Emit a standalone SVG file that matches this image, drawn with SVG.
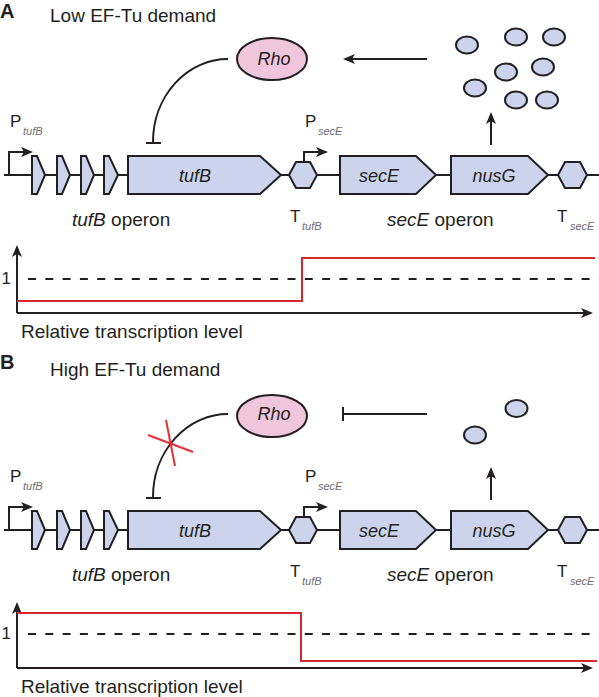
<svg xmlns="http://www.w3.org/2000/svg" width="599" height="697" viewBox="0 0 599 697">
<defs>
<style>
.t{font-family:"Liberation Sans",Arial,sans-serif;fill:#231f20}
.lbl{font-size:19px}
.gl{font-size:18px;font-style:italic;text-anchor:middle}
.it{font-style:italic}
.big{font-size:17px}
.sub{font-size:11px;font-style:italic;fill:#6d6e71}
.hd{font-size:20px;font-weight:bold}
.gene{fill:#cbd4ec;stroke:#231f20;stroke-width:2}
.ln{fill:none;stroke:#231f20;stroke-width:2}
.red{fill:none;stroke:#d9262e;stroke-width:2}
.x{fill:none;stroke:#e5323a;stroke-width:2}
.dash{fill:none;stroke:#231f20;stroke-width:2;stroke-dasharray:8 9.3}
.rho{fill:#f0c6dc;stroke:#231f20;stroke-width:2}
</style>
<marker id="ah" markerUnits="userSpaceOnUse" viewBox="0 0 12 10" refX="10" refY="5" markerWidth="12" markerHeight="10" orient="auto">
<path d="M0,0 L12,5 L0,10 L3,5 Z" fill="#231f20"/>
</marker>
</defs>

<!-- Panel A -->
<g id="panelA">
  <g id="A-title">
    <text class="t hd" x="0" y="18">A</text>
    <text class="t lbl" x="50" y="22">Low EF-Tu demand</text>
  </g>
  <g id="A-rho">
    <ellipse class="rho" cx="272" cy="59" rx="35" ry="21"/>
    <text class="t gl" x="274" y="65">Rho</text>
  </g>
  <g id="A-nusg-proteins">
    <ellipse class="gene" cx="467" cy="45" rx="11" ry="8.5"/>
    <ellipse class="gene" cx="516" cy="37" rx="11" ry="8.5"/>
    <ellipse class="gene" cx="554" cy="37" rx="11" ry="8.5"/>
    <ellipse class="gene" cx="506" cy="72" rx="11" ry="8.5"/>
    <ellipse class="gene" cx="543" cy="67" rx="11" ry="8.5"/>
    <ellipse class="gene" cx="475" cy="88" rx="11" ry="8.5"/>
    <ellipse class="gene" cx="516" cy="100" rx="11" ry="8.5"/>
    <ellipse class="gene" cx="547" cy="100" rx="11" ry="8.5"/>
  </g>
  <g id="A-genes">
    <path class="ln" d="M4,175 H599"/>
    <path class="ln" d="M9,175 V152 H31" marker-end="url(#ah)"/>
    <path class="gene" d="M32,156 H37 L45,175 L37,194 H32 Z"/>
    <path class="gene" d="M57,156 H62 L70,175 L62,194 H57 Z"/>
    <path class="gene" d="M81,156 H86 L94,175 L86,194 H81 Z"/>
    <path class="gene" d="M104,156 H109 L118,175 L109,194 H104 Z"/>
    <path class="gene" d="M128,156 H260 L281,175 L260,194 H128 Z"/>
    <text class="t gl" x="195" y="182">tufB</text>
    <path class="gene" d="M289,175 L296,162 H310 L317,175 L310,188 H296 Z"/>
    <path class="ln" d="M304,162 V152 H326" marker-end="url(#ah)"/>
    <path class="gene" d="M340,156 H416 L436,175 L416,194 H340 Z"/>
    <text class="t gl" x="379" y="182">secE</text>
    <path class="gene" d="M451,156 H528 L548,175 L528,194 H451 Z"/>
    <text class="t gl" x="494" y="182">nusG</text>
    <path class="gene" d="M558,175 L565,162 H580 L587,175 L580,188 H565 Z"/>
  </g>
  <g id="A-labels">
    <text class="t big" x="10" y="127">P</text><text class="t sub" x="23" y="135">tufB</text>
    <text class="t big" x="305" y="127">P</text><text class="t sub" x="318" y="135">secE</text>
    <text class="t lbl" x="72" y="226"><tspan class="it">tufB</tspan> operon</text>
    <text class="t big" x="290" y="222">T</text><text class="t sub" x="302" y="230">tufB</text>
    <text class="t lbl" x="387" y="226"><tspan class="it">secE</tspan> operon</text>
    <text class="t big" x="557" y="222">T</text><text class="t sub" x="570" y="230">secE</text>
  </g>
  <g id="A-chart">
    <path class="ln" d="M17,313 V247" marker-end="url(#ah)"/>
    <path class="ln" d="M17,313 H591" marker-end="url(#ah)"/>
    <path class="dash" d="M28,279 H599"/>
    <path class="red" d="M17,301 H302 V258 H595"/>
    <text class="t big" x="11" y="284" text-anchor="end">1</text>
    <text class="t lbl" x="21" y="338">Relative transcription level</text>
  </g>
</g>

<!-- Panel B -->
<g id="panelB" transform="translate(0,355)">
  <g id="B-title">
    <text class="t hd" x="0" y="14">B</text>
    <text class="t lbl" x="50" y="21">High EF-Tu demand</text>
  </g>
  <g id="B-rho">
    <ellipse class="rho" cx="272" cy="61" rx="35" ry="21"/>
    <text class="t gl" x="274" y="65">Rho</text>
  </g>
  <g id="B-nusg-proteins">
    <ellipse class="gene" cx="475" cy="80" rx="11" ry="8.5"/>
    <ellipse class="gene" cx="516.5" cy="53.5" rx="11" ry="8.5"/>
  </g>
  <g id="B-genes">
    <path class="ln" d="M4,175 H599"/>
    <path class="ln" d="M9,175 V152 H31" marker-end="url(#ah)"/>
    <path class="gene" d="M32,156 H37 L45,175 L37,194 H32 Z"/>
    <path class="gene" d="M57,156 H62 L70,175 L62,194 H57 Z"/>
    <path class="gene" d="M81,156 H86 L94,175 L86,194 H81 Z"/>
    <path class="gene" d="M104,156 H109 L118,175 L109,194 H104 Z"/>
    <path class="gene" d="M128,156 H260 L281,175 L260,194 H128 Z"/>
    <text class="t gl" x="195" y="182">tufB</text>
    <path class="gene" d="M289,175 L296,162 H310 L317,175 L310,188 H296 Z"/>
    <path class="ln" d="M304,162 V152 H326" marker-end="url(#ah)"/>
    <path class="gene" d="M340,156 H416 L436,175 L416,194 H340 Z"/>
    <text class="t gl" x="379" y="182">secE</text>
    <path class="gene" d="M451,156 H528 L548,175 L528,194 H451 Z"/>
    <text class="t gl" x="494" y="182">nusG</text>
    <path class="gene" d="M558,175 L565,162 H580 L587,175 L580,188 H565 Z"/>
  </g>
  <g id="B-labels">
    <text class="t big" x="10" y="127">P</text><text class="t sub" x="23" y="135">tufB</text>
    <text class="t big" x="305" y="127">P</text><text class="t sub" x="318" y="135">secE</text>
    <text class="t lbl" x="72" y="226"><tspan class="it">tufB</tspan> operon</text>
    <text class="t big" x="290" y="222">T</text><text class="t sub" x="302" y="230">tufB</text>
    <text class="t lbl" x="387" y="226"><tspan class="it">secE</tspan> operon</text>
    <text class="t big" x="557" y="222">T</text><text class="t sub" x="570" y="230">secE</text>
  </g>
  <g id="B-chart">
    <path class="ln" d="M17,313 V249" marker-end="url(#ah)"/>
    <path class="ln" d="M17,313 H591" marker-end="url(#ah)"/>
    <path class="dash" d="M28,279 H599"/>
    <path class="red" d="M17,258 H301 V306 H597"/>
    <text class="t big" x="11" y="284" text-anchor="end">1</text>
    <text class="t lbl" x="21" y="338">Relative transcription level</text>
  </g>
</g>

<!-- Connectors -->
<g id="connectors">
  <path class="ln" d="M228,59 A75,83 0 0 0 153,142 M146,143 H161"/>
  <path class="ln" d="M427,59 H345" marker-end="url(#ah)"/>
  <path class="ln" d="M491,145 V114" marker-end="url(#ah)"/>
  <path class="ln" d="M228,414 A75,83 0 0 0 153,497 M146,498 H161"/>
  <path class="x" d="M148,435 L193,452 M166,420 L175,466"/>
  <path class="ln" d="M427,414 H343 M343,407 V421"/>
  <path class="ln" d="M491,500 V469" marker-end="url(#ah)"/>
</g>
</svg>
